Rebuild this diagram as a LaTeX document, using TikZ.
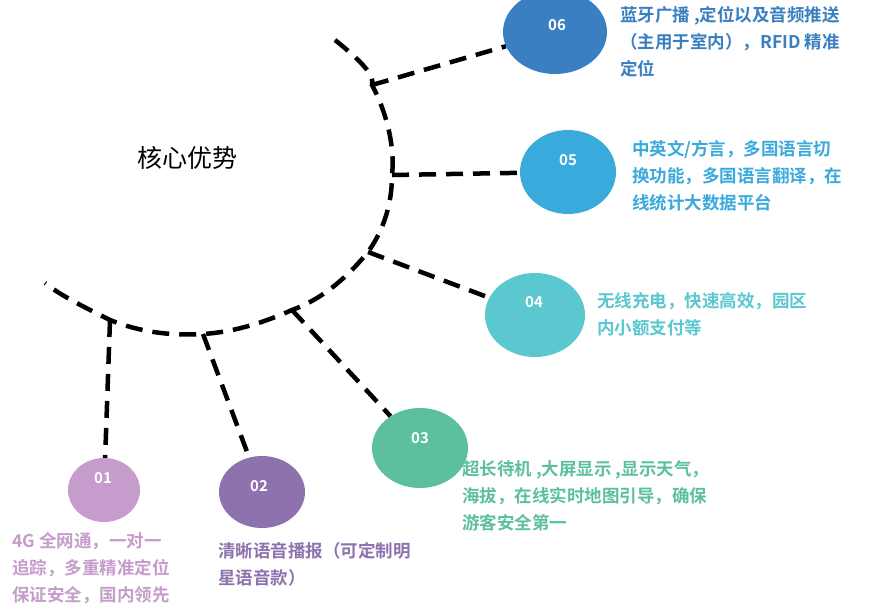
\documentclass[tikz,border=0pt]{standalone}
\usepackage{fontspec}
\usetikzlibrary{shapes.geometric}
\setmainfont{Noto Sans CJK SC}
\newfontfamily\cjkb{Noto Sans CJK SC Bold}
\begin{document}
\begin{tikzpicture}[x=1pt,y=-1pt,
 dl/.style={line width=4.5pt,dash pattern=on 17pt off 10pt},
 bub/.style={ellipse,draw=none,fill=#1,inner sep=0pt},
 num/.style={text=white,font=\cjkb\fontsize{15}{15}\selectfont},
 desc/.style={anchor=north west,align=left,font=\cjkb\fontsize{17.5}{27}\selectfont,inner sep=0pt}]
\clip (0,0) rectangle (878,611);
\useasboundingbox (0,0) rectangle (878,611);
\fill[white] (0,0) rectangle (878,611);
\definecolor{c6}{HTML}{3A7FC1}\definecolor{c5}{HTML}{3AA9DC}
\definecolor{c4}{HTML}{5BC8D0}\definecolor{c3}{HTML}{5CC0A0}
\definecolor{c2}{HTML}{8E72AD}\definecolor{c1}{HTML}{C59CCB}
\coordinate (p6) at (372,85);
\coordinate (p5) at (392,175);
\coordinate (p4) at (368,252);
\coordinate (p3) at (292,310);
\coordinate (p2) at (203,334);
\coordinate (p1) at (110,320);
\draw[dl] (335,40) .. controls (360,60) and (375,75) .. (p6)
  .. controls (388,115) and (395,150) .. (p5)
  .. controls (392,210) and (380,235) .. (p4)
  .. controls (345,280) and (320,300) .. (p3)
  .. controls (265,322) and (235,332) .. (p2)
  .. controls (170,336) and (140,332) .. (p1)
  .. controls (80,305) and (60,295) .. (45,283);
\node[bub=c6,minimum width=104pt,minimum height=84pt] (e6) at (555,32) {};
\node[bub=c5,minimum width=96pt,minimum height=84pt] (e5) at (568,172) {};
\node[bub=c4,minimum width=100pt,minimum height=84pt] (e4) at (535,315) {};
\node[bub=c3,minimum width=96pt,minimum height=80pt] (e3) at (420,448) {};
\node[bub=c2,minimum width=86pt,minimum height=72pt] (e2) at (262,492) {};
\node[bub=c1,minimum width=72pt,minimum height=64pt] (e1) at (104,490) {};
\node[num] at (557,25) {06};
\node[num] at (568,160) {05};
\node[num] at (534,302) {04};
\node[num] at (420,438) {03};
\node[num] at (259,486) {02};
\node[num] at (103,478) {01};
\draw[dl] (p6) -- (e6);
\draw[dl] (p5) -- (e5);
\draw[dl] (p4) -- (e4);
\draw[dl] (p3) -- (e3);
\draw[dl] (p2) -- (e2);
\draw[dl] (p1) -- (e1);
\node[font=\fontsize{25}{25}\selectfont] (t) at (187,158) {核心优势};
\node[desc,text=c6] (d6) at (620,6) {蓝牙广播 ,定位以及音频推送\\（主用于室内），RFID 精准\\定位};
\node[desc,text=c5] (d5) at (632,140) {中英文/方言，多国语言切\\换功能，多国语言翻译，在\\线统计大数据平台};
\node[desc,text=c4] (d4) at (597,292) {无线充电，快速高效，园区\\内小额支付等};
\node[desc,text=c3] (d3) at (462,460) {超长待机 ,大屏显示 ,显示天气，\\海拔，在线实时地图引导，确保\\游客安全第一};
\node[desc,text=c2] (d2) at (218,542) {清晰语音播报（可定制明\\星语音款）};
\node[desc,text=c1] (d1) at (12,532) {4G 全网通，一对一\\追踪，多重精准定位\\保证安全，国内领先};
\end{tikzpicture}
\end{document}
